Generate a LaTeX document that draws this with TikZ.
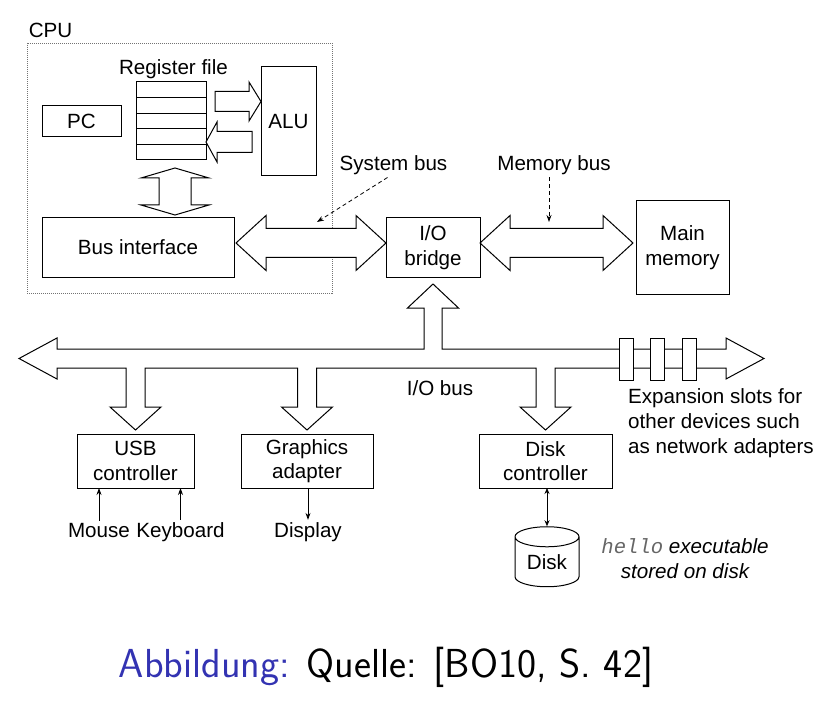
\documentclass[tikz,border=0pt]{standalone}
\usepackage{fontspec}
\setmainfont{Liberation Sans}
\setmonofont{Liberation Mono}
\usetikzlibrary{arrows.meta, positioning, calc, shapes.geometric}

\definecolor{beamerblue}{rgb}{0.2,0.2,0.7}
\newcommand{\figfont}{\fontsize{20.6pt}{24.6pt}\selectfont}

\tikzset{%
  box/.style={draw, line width=1pt, align=center, inner sep=0pt, outer sep=0pt, font=\figfont},
  regcell/.style={draw, line width=1pt, minimum width=70pt, minimum height=15.6pt, inner sep=0pt, outer sep=0pt},
  cpuframe/.style={draw=black!55, line width=0.8pt, dash pattern=on 1pt off 1pt},
  bus/.style={draw, line width=1pt, fill=white, line join=miter},
  slot/.style={draw, line width=1pt, fill=white, minimum width=14pt, minimum height=42pt, inner sep=0pt},
  lbl/.style={font=\figfont, inner sep=2pt},
  move/.style={-{Stealth[length=7pt,width=5pt]}, line width=0.8pt},
  link/.style={{Stealth[length=6pt,width=5pt]}-{Stealth[length=6pt,width=5pt]}, line width=0.8pt},
  note/.style={move, dash pattern=on 4pt off 3pt},
  diskstore/.style={draw, line width=1pt, cylinder, shape border rotate=90, aspect=0.5,
    minimum width=64pt, minimum height=60pt, inner sep=0pt, font=\figfont}
}

% block arrow from #1 to tip #2: head length, head half width, shaft half width
\newcommand{\sglbus}[5]{%
  \coordinate (hb) at ($(#2)!#3!(#1)$);
  \draw[bus] ($(#1)!#5!90:(#2)$) -- ($(hb)!#5!90:(#2)$) -- ($(hb)!#4!90:(#2)$) -- (#2)
    -- ($(hb)!#4!-90:(#2)$) -- ($(hb)!#5!-90:(#2)$) -- ($(#1)!#5!-90:(#2)$) -- cycle;}
% block arrow with tips #1 and #2
\newcommand{\dblbus}[5]{%
  \coordinate (ha) at ($(#1)!#3!(#2)$);
  \coordinate (hb) at ($(#2)!#3!(#1)$);
  \draw[bus] (#1) -- ($(ha)!#4!90:(#2)$) -- ($(ha)!#5!90:(#2)$) -- ($(hb)!#5!90:(#2)$)
    -- ($(hb)!#4!90:(#2)$) -- (#2) -- ($(hb)!#4!-90:(#2)$) -- ($(hb)!#5!-90:(#2)$)
    -- ($(ha)!#5!-90:(#2)$) -- ($(ha)!#4!-90:(#2)$) -- cycle;}
% branch of the I/O bus down to a device
\newcommand{\busdrop}[1]{%
  -- ($(#1.north)+(9.5,-66)$) -- ($(#1.north)+(9.5,-27)$) -- ($(#1.north)+(25.5,-27)$)
  -- ($(#1.north)+(0,-4)$) -- ($(#1.north)+(-25.5,-27)$) -- ($(#1.north)+(-9.5,-27)$)
  -- ($(#1.north)+(-9.5,-66)$)}

\begin{document}
\begin{tikzpicture}[x=1pt, y=-1pt]
  \fill[white] (0,0) rectangle (832,703);
  \useasboundingbox (0,0) rectangle (832,703);

  % CPU chip
  \node[cpuframe, minimum width=305pt, minimum height=250pt, inner sep=0pt, outer sep=0pt] (cpu) at (179.5,168) {};
  \node[lbl, anchor=base] (cpulbl) at (50.5,37.5) {CPU};

  \node[box, minimum width=79pt, minimum height=31pt] (pc) at (81.5,121.5) {PC};
  \foreach \i in {0,...,4}
    \node[regcell] (reg\i) at (171,89.8+15.6*\i) {};
  \node[lbl, anchor=base] (reglbl) at (173.5,75) {Register file};
  \node[box, minimum width=55pt, minimum height=109pt] (alu) at (288.5,121.5) {ALU};
  \node[box, minimum width=192pt, minimum height=59pt] (busif) at (138,247.5) {Bus interface};

  % bridge and memory
  \node[box, minimum width=94pt, minimum height=59pt] (bridge) at (433,247.5) {I/O\\bridge};
  \node[box, minimum width=93pt, minimum height=94pt] (mem) [right = 156pt of bridge] {Main\\memory};

  % devices
  \node[box, minimum width=117pt, minimum height=54pt] (usb) at (135.5,461) {USB\\controller};
  \node[box, minimum width=132pt, minimum height=54pt] (gfx) [right = 47pt of usb] {Graphics\\adapter};
  \node[box, minimum width=133pt, minimum height=54pt] (diskctl) [right = 106pt of gfx] {Disk\\controller};
  \node[diskstore] (disk) at (547,562) {Disk};

  % buses
  \coordinate (rfB) at ($(reg4.south)+(4,8)$);
  \coordinate (biT) at ($(reg4.south |- busif.north)+(4,-3)$);
  \dblbus{rfB}{biT}{10pt}{34pt}{16pt}

  \coordinate (aluIn) at ($(alu.west)+(0,-20)$);
  \coordinate (rfOut) at ($(aluIn -| reg1.east)+(9,0)$);
  \sglbus{rfOut}{aluIn}{12pt}{19.5pt}{10pt}
  \coordinate (aluOut) at ($(alu.west)+(-9,20.5)$);
  \coordinate (rfIn) at (aluOut -| reg3.east);
  \sglbus{aluOut}{rfIn}{11pt}{20pt}{10.5pt}

  \coordinate (sysL) at ($(busif.east)+(2,-4.5)$);
  \coordinate (sysR) at ($(bridge.west)+(0,-4.5)$);
  \dblbus{sysL}{sysR}{30pt}{27.5pt}{14.5pt}
  \coordinate (memL) at ($(bridge.east)+(0,-4.5)$);
  \coordinate (memR) at ($(mem.west |- memL)+(-3,0)$);
  \dblbus{memL}{memR}{30pt}{27.5pt}{14.5pt}

  % I/O bus
  \coordinate (ioL) at (19,358.5);
  \coordinate (ioR) at (764,358.5);
  \draw[bus] (ioL) -- ($(ioL)+(38,-20.5)$) -- ($(ioL)+(38,-9.5)$)
    -- ($(bridge.south)+(-9,72)$) -- ($(bridge.south)+(-9,31)$) -- ($(bridge.south)+(-25.5,31)$)
    -- ($(bridge.south)+(0,7)$) -- ($(bridge.south)+(25.5,31)$) -- ($(bridge.south)+(9,31)$)
    -- ($(bridge.south)+(9,72)$)
    -- ($(ioR)+(-38,-9.5)$) -- ($(ioR)+(-38,-20.5)$) -- (ioR) -- ($(ioR)+(-38,20.5)$) -- ($(ioR)+(-38,9.5)$)
    \busdrop{diskctl} \busdrop{gfx} \busdrop{usb}
    -- ($(ioL)+(38,9.5)$) -- ($(ioL)+(38,20.5)$) -- cycle;
  \foreach \x [count=\i] in {626,657.5,689}
    \node[slot] (slot\i) at (\x,359.5) {};

  % labels
  \node[lbl, anchor=base] (iobuslbl) at (440,395) {I/O bus};
  \node[lbl, anchor=base west, align=left] (explbl) at (626,453) {Expansion slots for\\other devices such\\as network adapters};
  \node[lbl, anchor=base] (syslbl) at (393.5,171) {System bus};
  \node[lbl, anchor=base] (memlbl) at (554,171) {Memory bus};
  \coordinate (sysbus) at (317,222);
  \coordinate (membus) at (549,222);
  \draw[note] ([xshift=-6pt]syslbl.south) -- (sysbus);
  \draw[note] (memlbl.south -| membus) -- (membus);

  \node[lbl, anchor=base] (mouse) at (99,537) {Mouse};
  \node[lbl, anchor=base] (keyboard) at (180.5,537) {Keyboard};
  \node[lbl, anchor=base] (display) at (308,537) {Display};
  \draw[move] (mouse.north) -- (mouse.north |- usb.south);
  \draw[move] (keyboard.north) -- (keyboard.north |- usb.south);
  \draw[move] (gfx.south -| display.north) -- (display.north);
  \draw[link] (disk.north |- diskctl.south) -- (disk.north);

  \node[lbl, align=center, inner sep=0pt, font=\figfont\itshape] (hello) at (685,558.5)
    {{\ttfamily\color{black!60}hello} executable\\stored on disk};

  \node[anchor=base, font=\sffamily\fontsize{40.5pt}{48pt}\selectfont] (caption) at (386,677)
    {\textcolor{beamerblue}{Abbildung:} Quelle: [BO10, S.~42]};
\end{tikzpicture}
\end{document}
